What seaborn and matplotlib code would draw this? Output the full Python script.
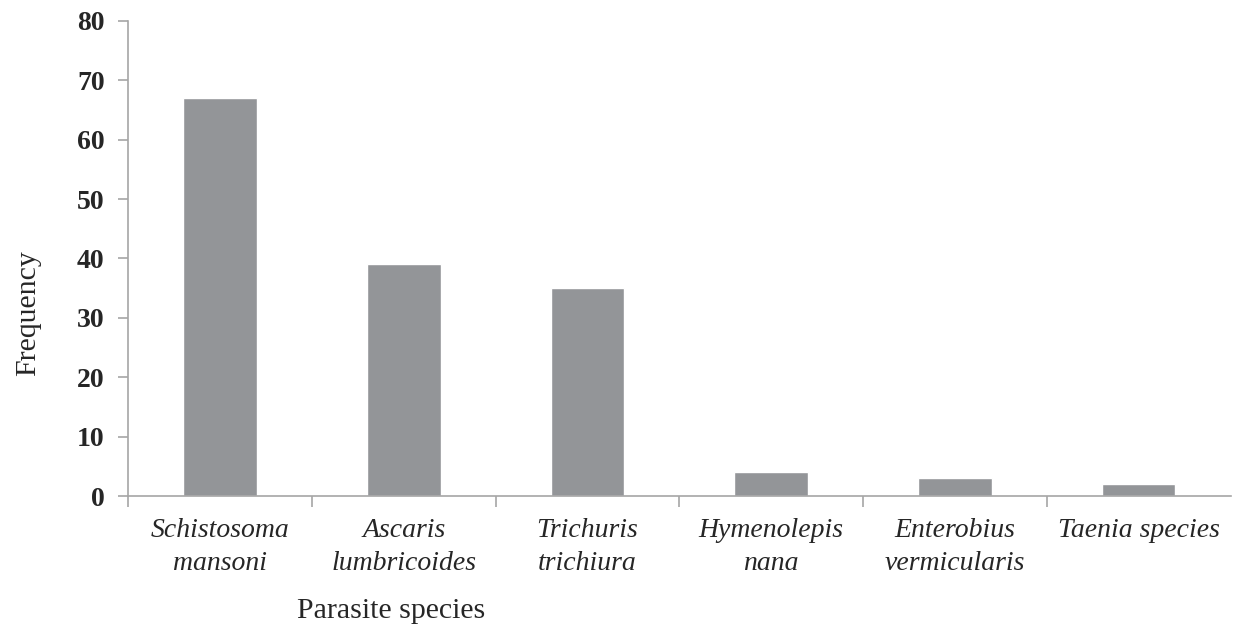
import numpy as np
import pandas as pd
import matplotlib
matplotlib.use("Agg")
import matplotlib.pyplot as plt
import seaborn as sns

# ---- Data ----
species = ["Schistosoma\nmansoni", "Ascaris\nlumbricoides", "Trichuris\ntrichiura",
           "Hymenolepis\nnana", "Enterobius\nvermicularis", "Taenia species"]
frequency = [67, 39, 35, 4, 3, 2]
y_ticks = [0, 10, 20, 30, 40, 50, 60, 70, 80]

df = pd.DataFrame({"species": species, "frequency": frequency})

sns.set_style("white")
plt.rcParams["font.family"] = ["Liberation Serif", "DejaVu Serif"]

fig = plt.figure(figsize=(12.33, 6.32), dpi=100)
ax = fig.add_axes([0.104, 0.215, 0.894, 0.752])

sns.barplot(data=df, x="species", y="frequency", color="#939598",
            width=0.4, saturation=1, ax=ax)

axis_grey = "#a6a6a6"
ax.set_xlim(-0.5, 5.5)
ax.set_ylim(0, 80)
ax.set_yticks(y_ticks)
ax.set_yticklabels([str(v) for v in y_ticks], fontsize=20, fontweight="bold")
ax.set_xticklabels(species, fontsize=20, fontstyle="italic", linespacing=1.4)

for s in ["top", "right"]:
    ax.spines[s].set_visible(False)
for s in ["left", "bottom"]:
    ax.spines[s].set_color(axis_grey)
    ax.spines[s].set_linewidth(1.2)

ax.tick_params(axis="y", length=7, width=1.2, color=axis_grey, pad=10, left=True, direction="out")
ax.tick_params(axis="x", which="major", length=0, pad=16)
ax.set_xticks(np.arange(-0.5, 5.0, 1.0), minor=True)
ax.tick_params(axis="x", which="minor", length=8, width=1.2, color=axis_grey, bottom=True, direction="out")

ax.set_xlabel("")
ax.set_ylabel("")
fig.text(0.023, 0.505, "Frequency", rotation=90, fontsize=21.5, ha="center", va="center")
fig.text(0.317, 0.033, "Parasite species", fontsize=21.5, ha="center", va="center")

fig.savefig("out.png", dpi=100, facecolor="white")
